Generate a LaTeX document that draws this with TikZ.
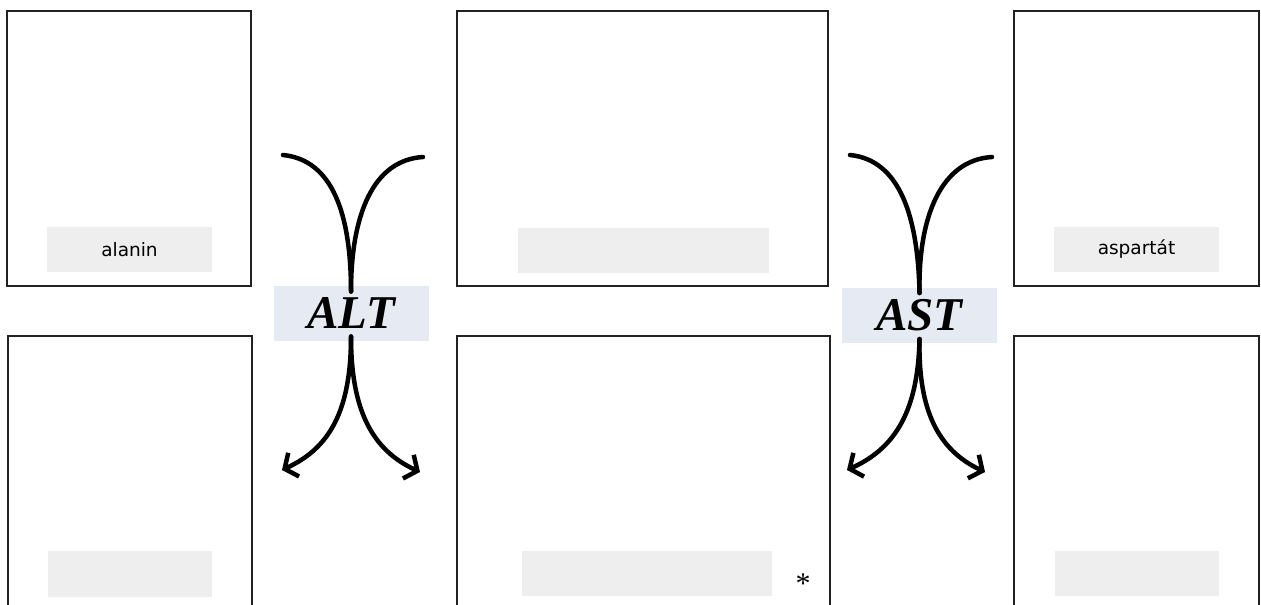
\documentclass[tikz,border=0pt]{standalone}
\usepackage{fontspec}
\usetikzlibrary{arrows.meta}
\newfontfamily\labfont{DejaVu Sans}
\newfontfamily\enzfont{Liberation Serif}
\definecolor{boxline}{RGB}{34,34,34}
\definecolor{labgray}{RGB}{238,238,238}
\definecolor{enzfill}{RGB}{230,235,243}
\tikzset{
  panel/.style={draw=boxline, line width=1.6pt, fill=white, inner sep=0pt, outer sep=0pt},
  labbox/.style={fill=labgray, inner sep=0pt, font=\labfont\fontsize{18.5}{18.5}\selectfont, text=black},
  enzbox/.style={fill=enzfill, draw=white, line width=1pt, inner sep=0pt, minimum width=156pt, minimum height=56pt,
    font=\enzfont\bfseries\itshape\fontsize{47}{47}\selectfont},
  flow/.style={line width=4.5pt, line cap=round},
  flowarrow/.style={flow, -{Straight Barb[length=10pt,width=26pt,line width=4.5pt]}},
}
\begin{document}
\begin{tikzpicture}[x=1pt,y=-1pt]
\useasboundingbox[fill=white] (0,0) rectangle (1261,605);
\begin{scope}
\clip (0,0) rectangle (1261,605);
% panels
\node[panel, minimum width=244pt, minimum height=275pt] (tl) at (129,148.5) {};
\node[panel, minimum width=244pt, minimum height=280pt] (bl) at (130,476) {};
\node[panel, minimum width=371pt, minimum height=275pt] (tc) at (642.5,148.5) {};
\node[panel, minimum width=373pt, minimum height=280pt] (bc) at (643.5,476) {};
\node[panel, minimum width=245pt, minimum height=275pt] (tr) at (1136.5,148.5) {};
\node[panel, minimum width=245pt, minimum height=280pt] (br) at (1136.5,476) {};
% labels
\node[labbox, minimum width=165pt, minimum height=45pt] (alanin) at (129.5,249.5) {alanin};
\node[labbox, minimum width=251pt, minimum height=45pt] (tclab) at (643.5,250.5) {};
\node[labbox, minimum width=165pt, minimum height=45pt] (aspartat) at (1136.5,249.5) {aspartát};
\node[labbox, minimum width=164pt, minimum height=46pt] (bllab) at (130,574) {};
\node[labbox, minimum width=250pt, minimum height=45pt] (bclab) at (647,573.5) {};
\node[labbox, minimum width=164pt, minimum height=45pt] (brlab) at (1137,573.5) {};
\node[font=\enzfont\fontsize{30}{30}\selectfont, inner sep=0pt] (star) at (803,584) {*};
\end{scope}
% enzymes
\node[enzbox] (alt) at (351,313) {ALT};
\node[enzbox] (ast) at (919.5,315.5) {AST};
% ALT arrows
\coordinate (altinL) at (283,155);
\coordinate (altinR) at (423,157);
\coordinate (altoutL) at (282,470);
\coordinate (altoutR) at (420,472);
\draw[flow] (altinL) .. controls (333,160) and (351,215) .. ([yshift=-7pt]alt.north);
\draw[flow] (altinR) .. controls (373,160) and (351,215) .. ([yshift=-7pt]alt.north);
\draw[flowarrow] ([yshift=5pt]alt.south) .. controls (351,410) and (330,448) .. (altoutL);
\draw[flowarrow] ([yshift=5pt]alt.south) .. controls (351,410) and (372,450) .. (altoutR);
% AST arrows
\coordinate (astinL) at (850,155);
\coordinate (astinR) at (992,157);
\coordinate (astoutL) at (847,470);
\coordinate (astoutR) at (985,472);
\draw[flow] (astinL) .. controls (900,160) and (918,217) .. ([yshift=-6pt]ast.north);
\draw[flow] (astinR) .. controls (941,160) and (918,217) .. ([yshift=-6pt]ast.north);
\draw[flowarrow] ([yshift=5pt]ast.south) .. controls (918,410) and (896,448) .. (astoutL);
\draw[flowarrow] ([yshift=5pt]ast.south) .. controls (918,410) and (938,450) .. (astoutR);
\end{tikzpicture}
\end{document}
